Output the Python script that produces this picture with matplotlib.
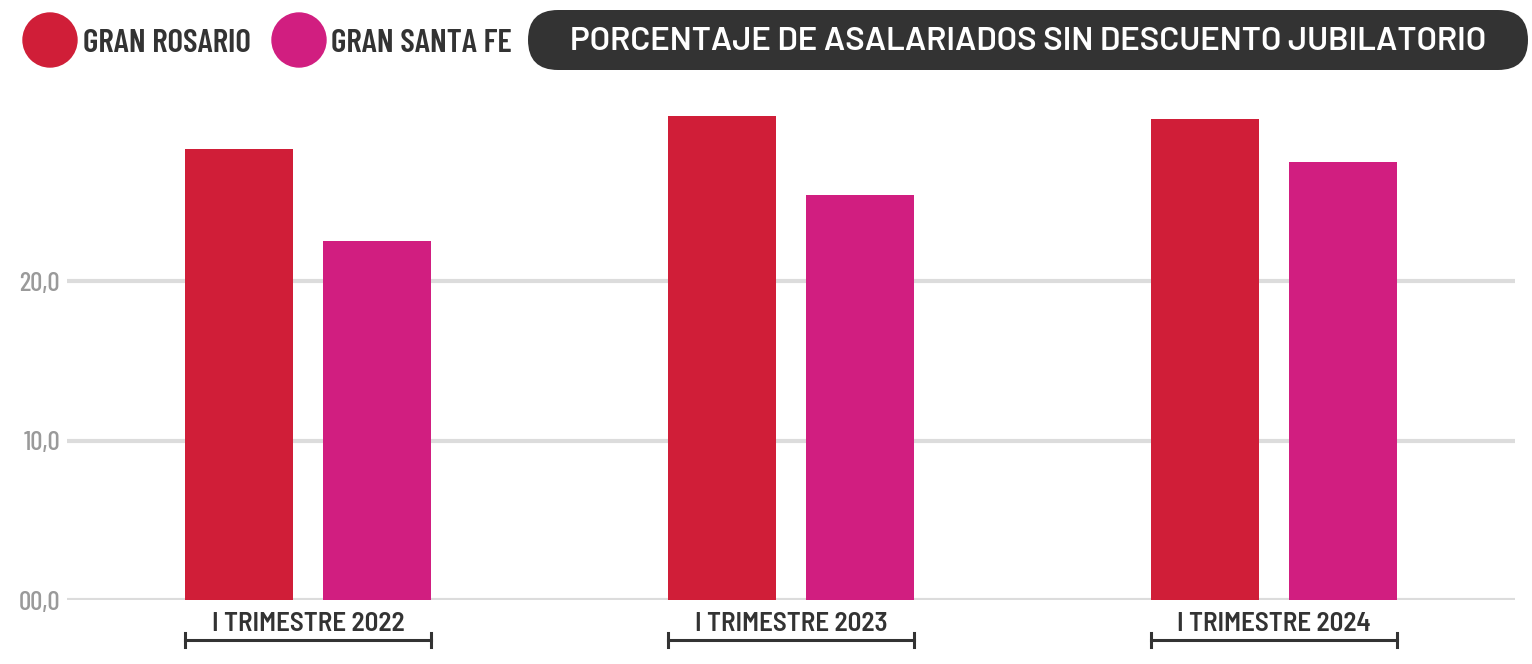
import matplotlib.pyplot as plt
import numpy as np
from matplotlib.patches import Circle, FancyBboxPatch
from matplotlib.transforms import blended_transform_factory

periodos = ["I TRIMESTRE 2022", "I TRIMESTRE 2023", "I TRIMESTRE 2024"]
gran_rosario = [28.3, 30.4, 30.2]
gran_santa_fe = [22.5, 25.4, 27.5]
series = ["GRAN ROSARIO", "GRAN SANTA FE"]
titulo = "PORCENTAJE DE ASALARIADOS SIN DESCUENTO JUBILATORIO"
yticks = [0, 10, 20]
ytick_labels = ["00,0", "10,0", "20,0"]

ROJO = "#d01e38"
MAGENTA = "#d11e80"
OSCURO = "#333333"
GRIS = "#9a9a9a"
COND = ["Barlow Condensed", "DejaVu Sans"]
SEMI = ["Barlow Semi Condensed", "DejaVu Sans"]

W, H = 1532, 664
fig = plt.figure(figsize=(W / 100, H / 100), dpi=100)

# ejes principales (posicion en pixeles de la referencia)
ax = fig.add_axes([67 / W, 64 / H, (1515 - 67) / W, 510 / H])
x = np.arange(len(periodos))
ancho = 0.224
off = 0.143
ax.bar(x - off, gran_rosario, ancho, color=ROJO, zorder=3)
ax.bar(x + off, gran_santa_fe, ancho, color=MAGENTA, zorder=3)

ax.set_xlim(-0.5, 2.5)
ax.set_ylim(0, 32)
ax.set_yticks(yticks)
ax.set_yticklabels(ytick_labels, fontfamily=COND, fontsize=19.5, fontweight=500, color=GRIS)
ax.set_xticks(x)
ax.set_xticklabels(periodos, fontfamily=SEMI, fontsize=19.5, fontweight=600, color=OSCURO)
ax.tick_params(axis="both", length=0)
ax.tick_params(axis="x", pad=8.5)
ax.tick_params(axis="y", pad=5)
ax.yaxis.grid(True, color="#dcdcdc", linewidth=3, zorder=0)
for s in ax.spines.values():
    s.set_visible(False)

# corchetes bajo cada grupo
tr = blended_transform_factory(ax.transData, ax.transAxes)
for xi in x:
    x0 = xi - off - ancho / 2
    x1 = xi + off + ancho / 2
    ax.plot([x0, x1], [-0.078, -0.078], color=OSCURO, lw=2.2, transform=tr, clip_on=False)
    for xe in (x0, x1):
        ax.plot([xe, xe], [-0.064, -0.092], color=OSCURO, lw=2.2, transform=tr, clip_on=False)

# capa de encabezado en pixeles
top = fig.add_axes([0, 0, 1, 1], zorder=5)
top.set_xlim(0, W)
top.set_ylim(H, 0)
top.axis("off")

for cx, txt_x, color, nombre in [(50, 83, ROJO, series[0]), (299, 331, MAGENTA, series[1])]:
    top.add_patch(Circle((cx, 40), 27, color=color))
    top.text(txt_x, 43, nombre, fontfamily=COND, fontsize=24, fontweight=600,
             color=OSCURO, ha="left", va="center")

top.add_patch(FancyBboxPatch((528, 10), 1000, 60, boxstyle="round,pad=0,rounding_size=30",
                             facecolor=OSCURO, edgecolor="none"))
t = top.text(1028, 41, titulo, fontfamily=["Barlow", "DejaVu Sans"], fontsize=20,
             fontweight=600, color="white", ha="center", va="center")
# ajustar el ancho del titulo al de la referencia (~915 px)
r = fig.canvas.get_renderer()
w = t.get_window_extent(r).width
t.set_fontsize(20 * 915 / w)

fig.savefig("out.png", dpi=100, facecolor="white")
